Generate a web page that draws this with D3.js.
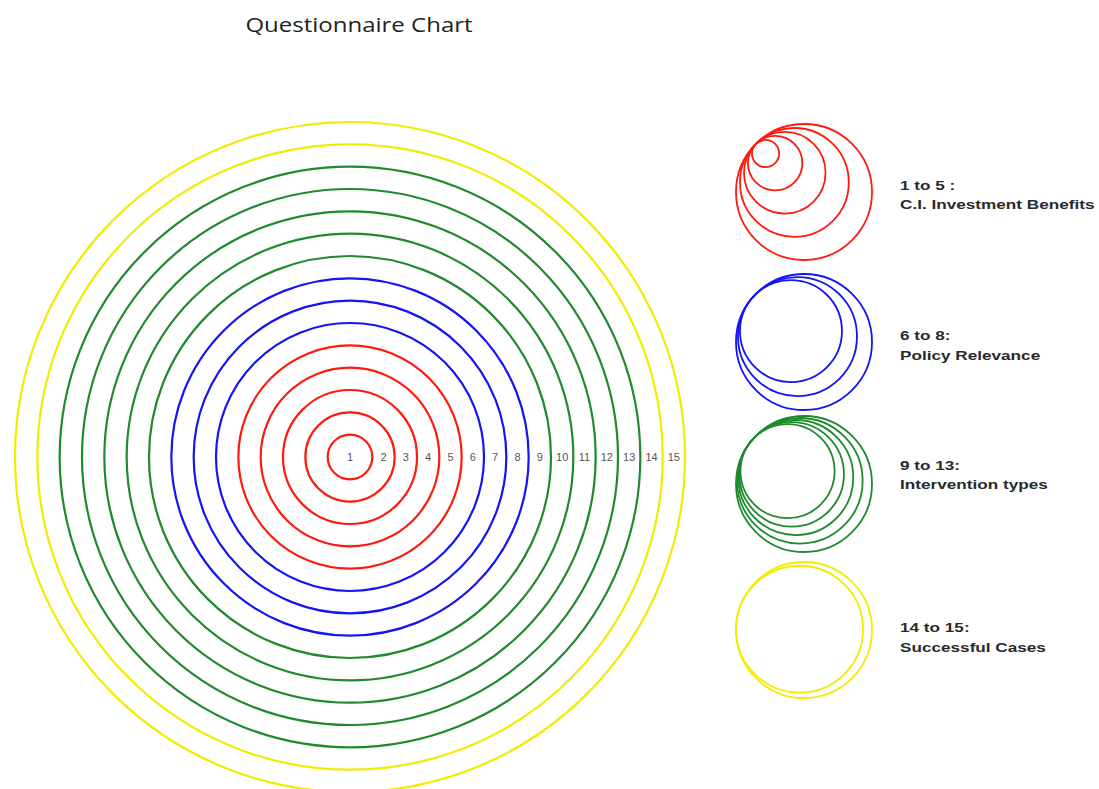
<!DOCTYPE html>
<html>
<head>
<meta charset="utf-8">
<script src="https://cdn.jsdelivr.net/npm/d3@7"></script>
<style>
  body { margin: 0; background: #fff; }
  .ring-label { font-family: "Liberation Sans", Arial, sans-serif; font-size: 11px; fill: #555; }
  .legend-text { font-family: "Liberation Sans", Arial, sans-serif; font-size: 13px; font-weight: bold; fill: #2a2a2a; }
  .chart-title { font-family: "Open Sans", sans-serif; font-size: 20px; fill: #222; }
</style>
</head>
<body>
<div id="chart"></div>
<script>
// Rings of the questionnaire, 1 (centre) to 15 (outside)
var rings = [1, 2, 3, 4, 5, 6, 7, 8, 9, 10, 11, 12, 13, 14, 15];

// Groups of questions
var groupNames = ["C.I. Investment Benefits", "Policy Relevance", "Intervention types", "Successful Cases"];
var groupHeads = ["1 to 5 :", "6 to 8:", "9 to 13:", "14 to 15:"];
var groupFrom = [1, 6, 9, 14];
var groupTo = [5, 8, 13, 15];
var groupColors = ["#ff1a0e", "#1414f5", "#1f8a2e", "#f2ec00"];

var width = 1099,
    height = 789,
    cx = 350,
    cy = 457,
    maxR = 335;

var svg = d3.select("#chart").append("svg")
    .attr("width", width)
    .attr("height", height);

svg.append("text")
    .attr("class", "chart-title")
    .attr("transform", "translate(359,32) scale(1.2,1)")
    .attr("text-anchor", "middle")
    .text("Questionnaire Chart");

function groupOf(i) {
    for (var g = 0; g < groupFrom.length; g++) {
        if (i >= groupFrom[g] && i <= groupTo[g]) return g;
    }
    return 0;
}

var rScale = d3.scaleLinear().domain([0, rings.length]).range([0, maxR]);

// main target
var chartG = svg.append("g")
    .attr("transform", "translate(" + cx + "," + cy + ")");

chartG.selectAll("circle.ring").data(rings)
    .enter().append("circle")
    .attr("class", "ring")
    .attr("r", function(d) { return rScale(d); })
    .attr("fill", "none")
    .attr("stroke", function(d) { return groupColors[groupOf(d)]; })
    .attr("stroke-width", 2.2);

chartG.selectAll("text.ring-label").data(rings)
    .enter().append("text")
    .attr("class", "ring-label")
    .attr("text-anchor", "middle")
    .attr("x", function(d) { return d === 1 ? 0 : (rScale(d - 1) + rScale(d)) / 2; })
    .attr("y", 4)
    .text(function(d) { return d; });

// legend: nested circles touching at one side
var legendX = 804,
    legendY = [192, 342, 484, 630],
    legendR = 68,
    legendAngle = [45, 40, 38, 10],
    headY = [190, 340, 470, 632],
    nameY = [209, 360, 489, 652],
    textX = 900;

groupNames.forEach(function(name, g) {
    var items = rings.filter(function(d) { return groupOf(d) === g; });
    var lScale = d3.scaleLinear().domain([0, groupTo[g]]).range([0, legendR]);
    var a = legendAngle[g] * Math.PI / 180,
        ux = Math.cos(a),
        uy = Math.sin(a);
    // common touching point
    var tx = legendX - legendR * ux,
        ty = legendY[g] - legendR * uy;

    var lg = svg.append("g").attr("class", "legend");
    lg.selectAll("circle").data(items)
        .enter().append("circle")
        .attr("cx", function(d) { return tx + lScale(d) * ux; })
        .attr("cy", function(d) { return ty + lScale(d) * uy; })
        .attr("r", function(d) { return lScale(d); })
        .attr("fill", "none")
        .attr("stroke", groupColors[g])
        .attr("stroke-width", 1.8);

    lg.append("text")
        .attr("class", "legend-text")
        .attr("transform", "translate(" + textX + "," + headY[g] + ") scale(1.32,1)")
        .text(groupHeads[g]);
    lg.append("text")
        .attr("class", "legend-text")
        .attr("transform", "translate(" + textX + "," + nameY[g] + ") scale(1.32,1)")
        .text(name);
});
</script>
</body>
</html>
